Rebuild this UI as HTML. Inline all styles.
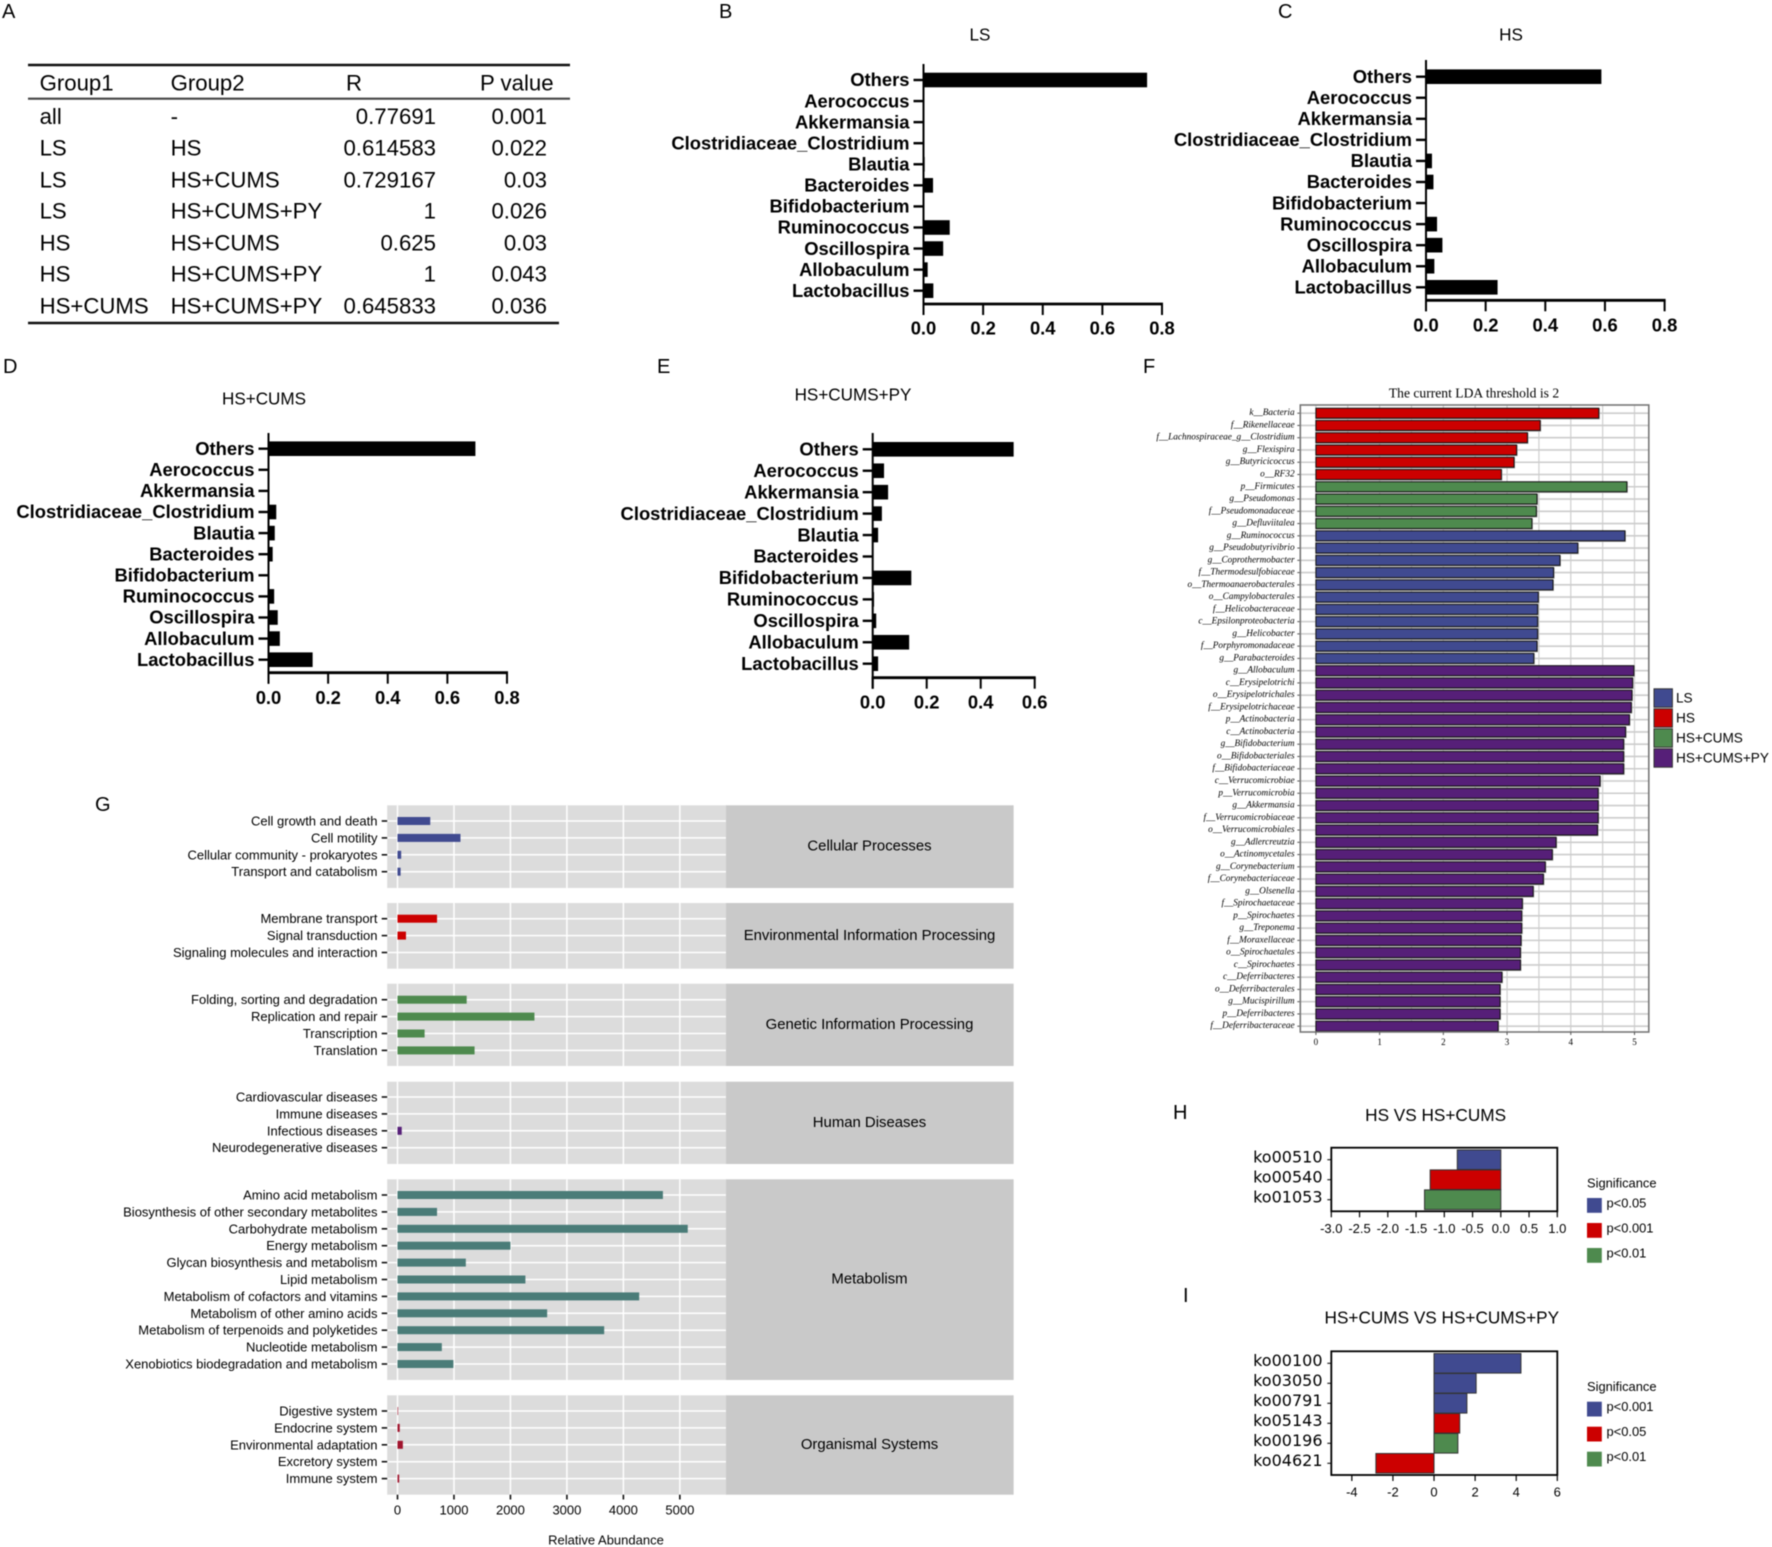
<!DOCTYPE html>
<html lang="en">
<head>
<meta charset="utf-8">
<title>Microbiome analysis figure panels A–I</title>
<style>
html,body{margin:0;padding:0;background:#fff;}
svg{display:block;font-family:"Liberation Sans",sans-serif;filter:blur(0.4px);}
text{fill:#000;}
</style>
</head>
<body>
<svg id="figure" width="1772" height="1547" viewBox="0 0 1772 1547" xmlns="http://www.w3.org/2000/svg">
  <rect x="0" y="0" width="1772" height="1547" fill="#fff"/>
  <g font-size="20">
    <text x="2" y="18">A</text>
    <text x="719" y="18">B</text>
    <text x="1278" y="18">C</text>
    <text x="3" y="373">D</text>
    <text x="657" y="373">E</text>
    <text x="1143" y="373">F</text>
    <text x="95" y="811">G</text>
    <text x="1173" y="1119">H</text>
    <text x="1183" y="1302">I</text>
  </g>
  <g id="panel-a" font-size="22.2">
    <line x1="28" y1="65" x2="570" y2="65" stroke="#111" stroke-width="2.6"/>
    <line x1="28" y1="98.7" x2="570" y2="98.7" stroke="#444" stroke-width="2.2"/>
    <line x1="28" y1="323" x2="559" y2="323" stroke="#111" stroke-width="2.6"/>
    <g dominant-baseline="central">
      <text x="39.6" y="83">Group1</text>
      <text x="170.6" y="83">Group2</text>
      <text x="346" y="83">R</text>
      <text x="480" y="83">P value</text>
    </g>
    <g dominant-baseline="central">
      <text x="39.6" y="116.5">all</text>
      <text x="39.6" y="148">LS</text>
      <text x="39.6" y="180">LS</text>
      <text x="39.6" y="211">LS</text>
      <text x="39.6" y="243">HS</text>
      <text x="39.6" y="274">HS</text>
      <text x="39.6" y="306">HS+CUMS</text>
    </g>
    <g dominant-baseline="central">
      <text x="170.6" y="116.5">-</text>
      <text x="170.6" y="148">HS</text>
      <text x="170.6" y="180">HS+CUMS</text>
      <text x="170.6" y="211">HS+CUMS+PY</text>
      <text x="170.6" y="243">HS+CUMS</text>
      <text x="170.6" y="274">HS+CUMS+PY</text>
      <text x="170.6" y="306">HS+CUMS+PY</text>
    </g>
    <g dominant-baseline="central" text-anchor="end">
      <text x="436" y="116.5">0.77691</text>
      <text x="436" y="148">0.614583</text>
      <text x="436" y="180">0.729167</text>
      <text x="436" y="211">1</text>
      <text x="436" y="243">0.625</text>
      <text x="436" y="274">1</text>
      <text x="436" y="306">0.645833</text>
    </g>
    <g dominant-baseline="central" text-anchor="end">
      <text x="547" y="116.5">0.001</text>
      <text x="547" y="148">0.022</text>
      <text x="547" y="180">0.03</text>
      <text x="547" y="211">0.026</text>
      <text x="547" y="243">0.03</text>
      <text x="547" y="274">0.043</text>
      <text x="547" y="306">0.036</text>
    </g>
  </g>
</svg>
<script>
/* ---------- Panels B–E: genus relative abundance ---------- */
const genusCategories = ["Others","Aerococcus","Akkermansia","Clostridiaceae_Clostridium","Blautia","Bacteroides","Bifidobacterium","Ruminococcus","Oscillospira","Allobaculum","Lactobacillus"];
const lsValues = [0.75,0,0,0,0.004,0.032,0,0.088,0.066,0.014,0.033];
const hsValues = [0.588,0,0,0,0.02,0.025,0,0.037,0.055,0.028,0.24];
const hsCumsValues = [0.694,0,0,0.026,0.021,0.014,0,0.019,0.031,0.038,0.148];
const hsCumsPyValues = [0.522,0.042,0.057,0.034,0.02,0,0.143,0.005,0.013,0.135,0.02];
const genusTicks08 = [0,0.2,0.4,0.6,0.8];
const genusTicks06 = [0,0.2,0.4,0.6];

/* ---------- Panel F: LDA scores ---------- */
const ldaHsLabels = ["k__Bacteria","f__Rikenellaceae","f__Lachnospiraceae_g__Clostridium","g__Flexispira","g__Butyricicoccus","o__RF32"];
const ldaHsValues = [4.44,3.52,3.32,3.15,3.11,2.91];
const ldaHsCumsLabels = ["p__Firmicutes","g__Pseudomonas","f__Pseudomonadaceae","g__Defluviitalea"];
const ldaHsCumsValues = [4.88,3.47,3.46,3.39];
const ldaLsLabels = ["g__Ruminococcus","g__Pseudobutyrivibrio","g__Coprothermobacter","f__Thermodesulfobiaceae","o__Thermoanaerobacterales","o__Campylobacterales","f__Helicobacteraceae","c__Epsilonproteobacteria","g__Helicobacter","f__Porphyromonadaceae","g__Parabacteroides"];
const ldaLsValues = [4.85,4.11,3.83,3.73,3.72,3.49,3.48,3.48,3.48,3.47,3.42];
const ldaPyLabels = ["g__Allobaculum","c__Erysipelotrichi","o__Erysipelotrichales","f__Erysipelotrichaceae","p__Actinobacteria","c__Actinobacteria","g__Bifidobacterium","o__Bifidobacteriales","f__Bifidobacteriaceae","c__Verrucomicrobiae","p__Verrucomicrobia","g__Akkermansia","f__Verrucomicrobiaceae","o__Verrucomicrobiales","g__Adlercreutzia","o__Actinomycetales","g__Corynebacterium","f__Corynebacteriaceae","g__Olsenella","f__Spirochaetaceae","p__Spirochaetes","g__Treponema","f__Moraxellaceae","o__Spirochaetales","c__Spirochaetes","c__Deferribacteres","o__Deferribacterales","g__Mucispirillum","p__Deferribacteres","f__Deferribacteraceae"];
const ldaPyValues = [4.99,4.97,4.96,4.95,4.92,4.86,4.83,4.83,4.83,4.46,4.43,4.43,4.43,4.42,3.77,3.71,3.60,3.57,3.41,3.24,3.23,3.23,3.22,3.21,3.21,2.92,2.89,2.89,2.89,2.86];
const ldaTicks = [0,1,2,3,4,5];
const ldaLegend = ["LS","HS","HS+CUMS","HS+CUMS+PY"];

/* ---------- Panel G: KEGG pathway abundance ---------- */
const keggCellularLabels = ["Cell growth and death","Cell motility","Cellular community - prokaryotes","Transport and catabolism"];
const keggCellularValues = [580,1115,65,55];
const keggEnvLabels = ["Membrane transport","Signal transduction","Signaling molecules and interaction"];
const keggEnvValues = [700,150,0];
const keggGeneticLabels = ["Folding, sorting and degradation","Replication and repair","Transcription","Translation"];
const keggGeneticValues = [1225,2425,480,1365];
const keggHumanLabels = ["Cardiovascular diseases","Immune diseases","Infectious diseases","Neurodegenerative diseases"];
const keggHumanValues = [0,0,75,0];
const keggMetabolismLabels = ["Amino acid metabolism","Biosynthesis of other secondary metabolites","Carbohydrate metabolism","Energy metabolism","Glycan biosynthesis and metabolism","Lipid metabolism","Metabolism of cofactors and vitamins","Metabolism of other amino acids","Metabolism of terpenoids and polyketides","Nucleotide metabolism","Xenobiotics biodegradation and metabolism"];
const keggMetabolismValues = [4700,700,5140,2000,1210,2265,4280,2650,3660,785,990];
const keggOrganismalLabels = ["Digestive system","Endocrine system","Environmental adaptation","Excretory system","Immune system"];
const keggOrganismalValues = [10,40,95,0,30];
const keggTicks = [0,1000,2000,3000,4000,5000];

/* ---------- Panels H, I: differential pathways ---------- */
const hPathways = ["ko00510","ko00540","ko01053"];
const hValues = [-0.77,-1.25,-1.35];
const hSignificance = ["p<0.05","p<0.001","p<0.01"];
const hTicks = [-3,-2.5,-2,-1.5,-1,-0.5,0,0.5,1];
const iPathways = ["ko00100","ko03050","ko00791","ko05143","ko00196","ko04621"];
const iValues = [4.23,2.05,1.6,1.25,1.16,-2.83];
const iSignificance = ["p<0.001","p<0.001","p<0.001","p<0.05","p<0.01","p<0.05"];
const iTicks = [-4,-2,0,2,4,6];

const BLUE = "#404a90", RED = "#cc0000", GREEN = "#4e8a4e", PURPLE = "#561f78", TEAL = "#4a7c78", CRIMSON = "#a0142d";
const svg = document.getElementById("figure");
const NS = "http://www.w3.org/2000/svg";

function el(tag, attrs, parent, txt) {
  const n = document.createElementNS(NS, tag);
  for (const k in attrs) n.setAttribute(k, attrs[k]);
  if (txt !== undefined) n.textContent = txt;
  parent.appendChild(n);
  return n;
}
function slug(s) {
  return String(s).toLowerCase().replace(/[^a-z0-9]+/g, "-").replace(/^-|-$/g, "");
}

function drawGenusPanel(o) {
  const g = el("g", {}, svg);
  
  
  const xMax = o.ticks[o.ticks.length - 1];
  const xs = v => o.x0 + v / xMax * (o.x1 - o.x0);
  const ys = i => o.yFirst + i * (o.yLast - o.yFirst) / (genusCategories.length - 1);

  const title = el("text", {x: o.titleX, y: o.titleY, "text-anchor": "middle", "dominant-baseline": "central", "font-size": 17.1}, g, o.title);
  
  

  o.values.forEach((v, i) => {
    const bar = el("rect", {x: xs(0), y: ys(i) - 7.3, width: xs(v) - xs(0), height: 14.6, fill: "#000"}, g);
    
    
    const tick = el("line", {x1: o.x0 - 10, x2: o.x0, y1: ys(i), y2: ys(i), stroke: "#000", "stroke-width": 2.4}, g);
    
    
    const lab = el("text", {x: o.x0 - 14, y: ys(i) - 0.3, "text-anchor": "end", "dominant-baseline": "central", "font-size": 18.4, "font-weight": "bold"}, g, genusCategories[i]);
    
    
  });

  const yAxis = el("line", {x1: o.x0, x2: o.x0, y1: o.top, y2: o.base + 11, stroke: "#000", "stroke-width": 2}, g);
  
  
  const xAxis = el("line", {x1: o.x0 - 1, x2: o.x1 + 1, y1: o.base, y2: o.base, stroke: "#000", "stroke-width": 2.8}, g);
  
  
  o.ticks.forEach(t => {
    const tick = el("line", {x1: xs(t), x2: xs(t), y1: o.base, y2: o.base + 11, stroke: "#000", "stroke-width": 2}, g);
    
    
    const lab = el("text", {x: xs(t), y: o.tickY, "text-anchor": "middle", "dominant-baseline": "central", "font-size": 18.4, "font-weight": "bold"}, g, t.toFixed(1));
    
    
  });
}

drawGenusPanel({name: "panel-b-ls-chart", title: "LS", titleX: 980, titleY: 35, values: lsValues, ticks: genusTicks08, x0: 923.5, x1: 1162, yFirst: 80, yLast: 290.7, top: 64, base: 304, tickY: 328});
drawGenusPanel({name: "panel-c-hs-chart", title: "HS", titleX: 1511, titleY: 35, values: hsValues, ticks: genusTicks08, x0: 1426, x1: 1664.6, yFirst: 76.7, yLast: 287.3, top: 60, base: 300.3, tickY: 325});
drawGenusPanel({name: "panel-d-hs-cums-chart", title: "HS+CUMS", titleX: 264, titleY: 399, values: hsCumsValues, ticks: genusTicks08, x0: 268.5, x1: 507, yFirst: 448.7, yLast: 659.7, top: 433, base: 672.7, tickY: 697.7});
drawGenusPanel({name: "panel-e-hs-cums-py-chart", title: "HS+CUMS+PY", titleX: 853, titleY: 395, values: hsCumsPyValues, ticks: genusTicks06, x0: 872.7, x1: 1034.7, yFirst: 449.3, yLast: 663.7, top: 433, base: 677.7, tickY: 702});

/* Panel F */
(function () {
  const g = el("g", {"font-family": '"Liberation Serif",serif'}, svg);
  
  
  const left = 1300.3, right = 1648.8, top = 405, bottom = 1032;
  const x0 = 1315.9, unit = 63.72, yFirst = 413.2, step = 12.26;
  const xs = v => x0 + v * unit;
  const labels = [].concat(ldaHsLabels, ldaHsCumsLabels, ldaLsLabels, ldaPyLabels);
  const values = [].concat(ldaHsValues, ldaHsCumsValues, ldaLsValues, ldaPyValues);
  const fills = [].concat(ldaHsValues.map(() => RED), ldaHsCumsValues.map(() => GREEN), ldaLsValues.map(() => BLUE), ldaPyValues.map(() => PURPLE));

  const title = el("text", {x: 1474, y: 393, "text-anchor": "middle", "dominant-baseline": "central", "font-size": 13.6}, g, "The current LDA threshold is 2");
  
  

  for (let t = 0; t <= 5; t += 0.5) {
    const grid = el("line", {x1: xs(t), x2: xs(t), y1: top, y2: bottom, stroke: "#cfcfcf", "stroke-width": 1.2}, g);
    
    
  }
  values.forEach((v, i) => {
    const y = yFirst + i * step;
    const grid = el("line", {x1: left, x2: right, y1: y, y2: y, stroke: "#cccccc", "stroke-width": 1.6}, g);
    
    
    const shadow = el("rect", {x: xs(0), y: y - 5, width: xs(v) - xs(0) + 1, height: 11.2, fill: "#aaaaaa"}, g);
    
    
    const bar = el("rect", {x: xs(0), y: y - 5, width: xs(v) - xs(0), height: 10, fill: fills[i], stroke: "#111", "stroke-width": 1}, g);
    
    
    const tick = el("line", {x1: left - 3, x2: left, y1: y, y2: y, stroke: "#555", "stroke-width": 1}, g);
    
    
    const lab = el("text", {x: 1294.6, y: y, "text-anchor": "end", "dominant-baseline": "central", "font-size": 9.25, "font-style": "italic", fill: "#222"}, g, labels[i]);
    
    
  });
  const box = el("rect", {x: left, y: top, width: right - left, height: bottom - top, fill: "none", stroke: "#777", "stroke-width": 1.6}, g);
  
  
  ldaTicks.forEach(t => {
    const tick = el("line", {x1: xs(t), x2: xs(t), y1: bottom, y2: bottom + 3, stroke: "#555", "stroke-width": 1}, g);
    
    
    const lab = el("text", {x: xs(t), y: 1042, "text-anchor": "middle", "dominant-baseline": "central", "font-size": 9}, g, t);
    
    
  });
  const legendFills = [BLUE, RED, GREEN, PURPLE];
  ldaLegend.forEach((name, i) => {
    const y = 698 + i * 20;
    const sw = el("rect", {x: 1654, y: y - 9.2, width: 18.4, height: 18.4, fill: legendFills[i], stroke: "#333", "stroke-width": 1}, g);
    
    
    const lab = el("text", {x: 1676, y: y, "dominant-baseline": "central", "font-size": 13.6, "font-family": '"Liberation Sans",sans-serif'}, g, name);
    
    
  });
})();

/* Panel G */
(function () {
  const g = el("g", {}, svg);
  
  
  const left = 387.2, strip = 725.9, right = 1013.6, x0 = 397.5, per1000 = 56.47;
  const xs = v => x0 + v / 1000 * per1000;
  const rowStep = 16.9;
  const facet = (name, labels, values, fill, top, bottom, firstY) => {
    const bg = el("rect", {x: left, y: top, width: strip - left, height: bottom - top, fill: "#dcdcdc"}, g);
    
    
    const st = el("rect", {x: strip, y: top, width: right - strip, height: bottom - top, fill: "#c9c9c9"}, g);
    
    
    const stl = el("text", {x: 869.5, y: (top + bottom) / 2, "text-anchor": "middle", "dominant-baseline": "central", "font-size": 14.9, fill: "#111"}, g, name);
    
    
    keggTicks.forEach(t => {
      const grid = el("line", {x1: xs(t), x2: xs(t), y1: top, y2: bottom, stroke: "#fff", "stroke-width": 1.5}, g);
      
      
    });
    labels.forEach((lab, i) => {
      const y = firstY + i * rowStep;
      const grid = el("line", {x1: left, x2: strip, y1: y, y2: y, stroke: "#fff", "stroke-width": 1.5}, g);
      
      
      const bar = el("rect", {x: xs(0), y: y - 4, width: xs(values[i]) - xs(0), height: 8, fill: fill}, g);
      
      
      const tick = el("line", {x1: left - 5.5, x2: left, y1: y, y2: y, stroke: "#111", "stroke-width": 1.6}, g);
      
      
      const txt = el("text", {x: 377.5, y: y, "text-anchor": "end", "dominant-baseline": "central", "font-size": 13, fill: "#111"}, g, lab);
      
      
    });
  };
  facet("Cellular Processes", keggCellularLabels, keggCellularValues, BLUE, 805.3, 888, 821);
  facet("Environmental Information Processing", keggEnvLabels, keggEnvValues, RED, 903, 968.7, 918.7);
  facet("Genetic Information Processing", keggGeneticLabels, keggGeneticValues, GREEN, 983.7, 1066, 999.7);
  facet("Human Diseases", keggHumanLabels, keggHumanValues, PURPLE, 1081.7, 1164, 1097);
  facet("Metabolism", keggMetabolismLabels, keggMetabolismValues, TEAL, 1179.3, 1380, 1195);
  facet("Organismal Systems", keggOrganismalLabels, keggOrganismalValues, CRIMSON, 1395.3, 1494.7, 1411);
  keggTicks.forEach(t => {
    const tick = el("line", {x1: xs(t), x2: xs(t), y1: 1494.7, y2: 1499.5, stroke: "#111", "stroke-width": 1.6}, g);
    
    
    const lab = el("text", {x: xs(t), y: 1510, "text-anchor": "middle", "dominant-baseline": "central", "font-size": 13, fill: "#111"}, g, t);
    
    
  });
  const axisTitle = el("text", {x: 606, y: 1540, "text-anchor": "middle", "dominant-baseline": "central", "font-size": 13, fill: "#111"}, g, "Relative Abundance");
  
  
})();

/* Panels H, I */
function drawKoPanel(o) {
  const g = el("g", {}, svg);
  
  
  const left = 1331.3, right = 1557.3;
  const xs = v => left + (v - o.xMin) / (o.xMax - o.xMin) * (right - left);
  const sigFill = {};
  o.legend.forEach((s, i) => { sigFill[s] = [BLUE, RED, GREEN][i]; });

  const title = el("text", {x: o.titleX, y: o.titleY, "text-anchor": "middle", "dominant-baseline": "central", "font-size": 17.2}, g, o.title);
  
  

  const rowH = 20;
  o.values.forEach((v, i) => {
    const y = o.rowY + i * rowH;
    const a = Math.min(xs(0), xs(v)), w = Math.abs(xs(v) - xs(0));
    const bar = el("rect", {x: a, y: y - 9.8, width: w, height: 19.6, fill: sigFill[o.sig[i]], stroke: "#333", "stroke-width": 1}, g);
    
    
    const tick = el("line", {x1: left - 4, x2: left, y1: y, y2: y, stroke: "#000", "stroke-width": 1}, g);
    
    
    const lab = el("text", {x: 1322.5, y: y - 2.7, "text-anchor": "end", "dominant-baseline": "central", "font-size": 16, "font-family": '"DejaVu Sans",sans-serif'}, g, o.paths[i]);
    
    
  });
  const box = el("rect", {x: left, y: o.top, width: right - left, height: o.bottom - o.top, fill: "none", stroke: "#000", "stroke-width": 1.8}, g);
  
  
  o.ticks.forEach(t => {
    const tick = el("line", {x1: xs(t), x2: xs(t), y1: o.bottom, y2: o.bottom + 6, stroke: "#000", "stroke-width": 1.2}, g);
    
    
    const lab = el("text", {x: xs(t), y: o.bottom + 17, "text-anchor": "middle", "dominant-baseline": "central", "font-size": 13, fill: "#222"}, g, o.decimals ? t.toFixed(1) : t);
    
    
  });
  const head = el("text", {x: 1587, y: o.legendY, "dominant-baseline": "central", "font-size": 12.9, fill: "#222"}, g, "Significance");
  
  
  o.legend.forEach((s, i) => {
    const y = o.legendY + 20 + i * 25;
    const sw = el("rect", {x: 1587, y: y - 5, width: 14.8, height: 14.8, fill: sigFill[s]}, g);
    
    
    const lab = el("text", {x: 1606.5, y: y, "dominant-baseline": "central", "font-size": 12.9, fill: "#222"}, g, s);
    
    
  });
}
drawKoPanel({name: "panel-h-ko-chart", title: "HS VS HS+CUMS", titleX: 1435.6, titleY: 1115, paths: hPathways, values: hValues, sig: hSignificance, legend: ["p<0.05", "p<0.001", "p<0.01"], ticks: hTicks, decimals: true, xMin: -3, xMax: 1, top: 1147.7, bottom: 1211.3, rowY: 1159.7, legendY: 1183});
drawKoPanel({name: "panel-i-ko-chart", title: "HS+CUMS VS HS+CUMS+PY", titleX: 1441.8, titleY: 1317.3, paths: iPathways, values: iValues, sig: iSignificance, legend: ["p<0.001", "p<0.05", "p<0.01"], ticks: iTicks, decimals: false, xMin: -5, xMax: 6, top: 1351.3, bottom: 1475, rowY: 1363.3, legendY: 1386.7});
</script>
</body>
</html>
